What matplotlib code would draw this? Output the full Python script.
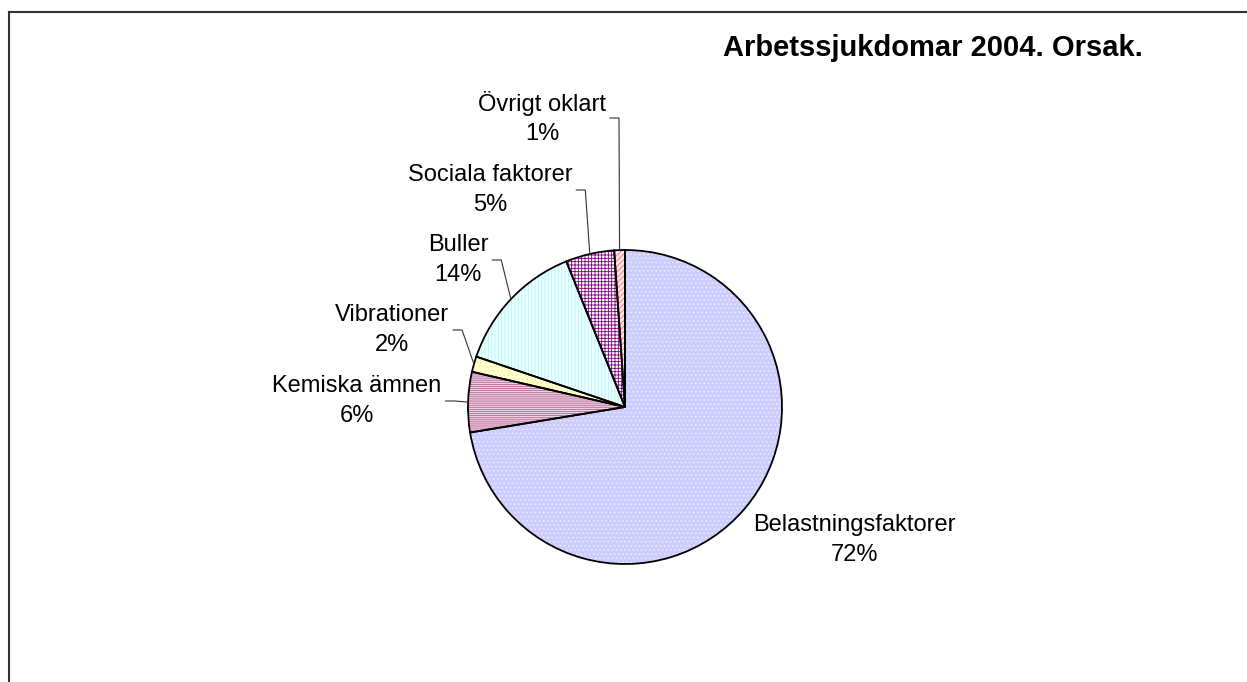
import numpy as np
import matplotlib
matplotlib.use("Agg")
import matplotlib.pyplot as plt
from matplotlib.patches import Wedge

plt.rcParams['font.family'] = ['Liberation Sans', 'DejaVu Sans']
plt.rcParams['hatch.linewidth'] = 0.6

# ======= Data =======
categories = ['Belastningsfaktorer', 'Kemiska ämnen', 'Vibrationer',
              'Buller', 'Sociala faktorer', 'Övrigt oklart']
shares = [72.4, 6.2, 1.6, 13.7, 5.0, 1.1]
title = 'Arbetssjukdomar 2004. Orsak.'

# ======= Styles =======
face_colors = ['#ccccff', '#f2d6e6', '#ffffcc', '#eaffff', '#ffffff', '#ffe4e4']
hatch_colors = ['#eeeeff', '#b06090', '#eeeeaa', '#b8f4f4', '#800080', '#ff7070']
hatches = ['....', '--------', '....', '|||||', '+++++', '//////']

W, H = 1247, 682
center = (625, H - 407)
radius = 157
# label block centres (pixels from top-left)
label_pos = [(854, 540), (357, 401), (392, 330), (458, 260), (490, 190), (542, 118)]
leader = [False, True, True, True, True, True]

fig = plt.figure(figsize=(W / 100, H / 100), dpi=100)
ax = fig.add_axes([0, 0, 1, 1])
ax.set_xlim(0, W)
ax.set_ylim(0, H)
ax.set_aspect('equal')
ax.axis('off')

wedges, _ = ax.pie(shares, startangle=90, counterclock=False, center=center,
                   radius=radius, colors=face_colors,
                   wedgeprops=dict(linewidth=0, edgecolor='none'))
ax.set_xlim(0, W)
ax.set_ylim(0, H)

# hatch overlay and black outline
for w, hc, hp in zip(wedges, hatch_colors, hatches):
    ax.add_patch(Wedge(w.center, w.r, w.theta1, w.theta2, fill=False,
                       edgecolor=hc, hatch=hp, linewidth=0))
for w in wedges:
    ax.add_patch(Wedge(w.center, w.r, w.theta1, w.theta2, fill=False,
                       edgecolor='black', linewidth=1.3, zorder=3))

fig.canvas.draw()
renderer = fig.canvas.get_renderer()

for w, name, val, pos, has_leader in zip(wedges, categories, shares, label_pos, leader):
    txt = ax.text(pos[0], H - pos[1], f"{name}\n{round(val)}%", ha='center',
                  va='center', multialignment='center', fontsize=17,
                  linespacing=1.42)
    if not has_leader:
        continue
    bb = txt.get_window_extent(renderer).transformed(ax.transData.inverted())
    mid = np.deg2rad((w.theta1 + w.theta2) / 2)
    ex = center[0] + radius * np.cos(mid)
    ey = center[1] + radius * np.sin(mid)
    sx = bb.x1 + 4
    sy = (bb.y0 + bb.y1) / 2
    ax.plot([sx, sx + 9, ex], [sy, sy, ey], color='#333333', lw=0.8, zorder=4)

ax.text(1143, H - 56, title, ha='right', va='baseline', fontsize=21,
        fontweight='bold')

# chart border (top and left visible)
ax.plot([8.5, W], [H - 11.5, H - 11.5], color='#333333', lw=1.5)
ax.plot([8.5, 8.5], [0, H - 11.5], color='#333333', lw=1.5)

fig.savefig('out.png', dpi=100)
